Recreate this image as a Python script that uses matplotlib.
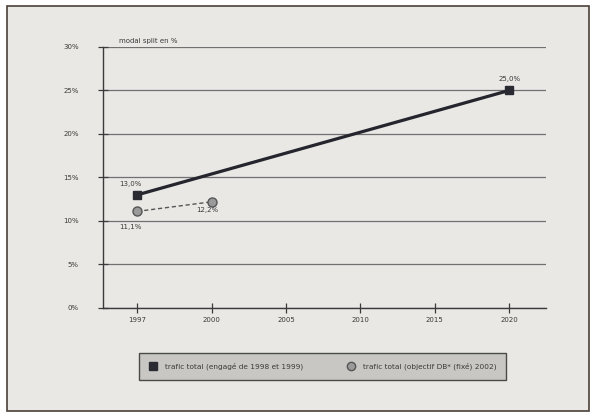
import matplotlib.pyplot as plt
from matplotlib.patches import Rectangle
from matplotlib.lines import Line2D

# données
years = ["1997", "2000", "2005", "2010", "2015", "2020"]
total_engage = [13.0, None, None, None, None, 25.0]
total_objectif = [11.1, 12.2, None, None, None, None]
y_ticks = [0, 5, 10, 15, 20, 25, 30]
y_title = "modal split en %"
legend_labels = ["trafic total (engagé de 1998 et 1999)", "trafic total (objectif DB* (fixé) 2002)"]

ink = "#3a3a3a"
fig = plt.figure(figsize=(6.03, 4.19), dpi=100, facecolor="white")

# feuille de papier
paper = Rectangle((0.012, 0.02), 0.965, 0.965, transform=fig.transFigure,
                  facecolor="#e9e8e5", edgecolor="#4a4038", linewidth=1.2, zorder=-10)
fig.patches.append(paper)

ax = fig.add_axes([0.171, 0.265, 0.735, 0.623])
ax.set_facecolor("none")

idx = list(range(len(years)))
x1 = [i for i, v in zip(idx, total_engage) if v is not None]
v1 = [v for v in total_engage if v is not None]
x2 = [i for i, v in zip(idx, total_objectif) if v is not None]
v2 = [v for v in total_objectif if v is not None]

ax.plot(x1, v1, color="#25252e", linewidth=2.3, marker="s", markersize=6,
        markerfacecolor="#2a2a33", markeredgecolor="#2a2a33", zorder=4)
ax.plot(x2, v2, color="#555555", linewidth=1.0, linestyle=(0, (3, 2)), marker="o", markersize=6.5,
        markerfacecolor="#9a9a9a", markeredgecolor="#555555", zorder=4)

def lab(v):
    return f"{v:.1f}%".replace(".", ",")

ax.annotate(lab(v1[0]), (x1[0], v1[0]), xytext=(-5, 6), textcoords="offset points",
            fontsize=5, color=ink, ha="center", va="bottom")
ax.annotate(lab(v1[1]), (x1[1], v1[1]), xytext=(0, 6), textcoords="offset points",
            fontsize=5, color=ink, ha="center", va="bottom")
ax.annotate(lab(v2[0]), (x2[0], v2[0]), xytext=(-5, -9), textcoords="offset points",
            fontsize=5, color=ink, ha="center", va="top")
ax.annotate(lab(v2[1]), (x2[1], v2[1]), xytext=(-11, -4), textcoords="offset points",
            fontsize=5, color=ink, ha="left", va="top")

ax.set_xlim(-0.46, 5.5)
ax.set_ylim(0, 30)
ax.set_xticks(idx)
ax.set_xticklabels(years)
ax.set_yticks(y_ticks)
ax.set_yticklabels([f"{t}%" for t in y_ticks])
ax.yaxis.grid(True, color="#707070", linewidth=0.9)
ax.set_axisbelow(True)
for s in ["top", "right"]:
    ax.spines[s].set_visible(False)
for s in ["left", "bottom"]:
    ax.spines[s].set_color(ink)
    ax.spines[s].set_linewidth(1.0)
ax.tick_params(axis="both", direction="inout", length=7, width=0.9, color=ink,
               labelsize=5, labelcolor=ink)
ax.tick_params(axis="y", pad=14)
ax.tick_params(axis="x", pad=3)
ax.text(-0.25, 30.3, y_title, fontsize=5, color=ink, va="bottom", ha="left")

handles = [
    Line2D([], [], linestyle="none", marker="s", markersize=6,
           markerfacecolor="#2a2a33", markeredgecolor="#2a2a33"),
    Line2D([], [], linestyle="none", marker="o", markersize=6,
           markerfacecolor="#9a9a9a", markeredgecolor="#555555"),
]
leg = fig.legend(handles, legend_labels, loc="center", bbox_to_anchor=(0.535, 0.125), ncol=2,
                 fontsize=5.3, frameon=True, fancybox=False, edgecolor="#4a4a4a",
                 facecolor="#c9c7c3", framealpha=1, handlelength=1.2, columnspacing=6,
                 borderpad=1.3, handletextpad=1.0)
leg.get_frame().set_linewidth(1.0)
for t in leg.get_texts():
    t.set_color(ink)

fig.savefig("out.png", dpi=100, facecolor="white")
